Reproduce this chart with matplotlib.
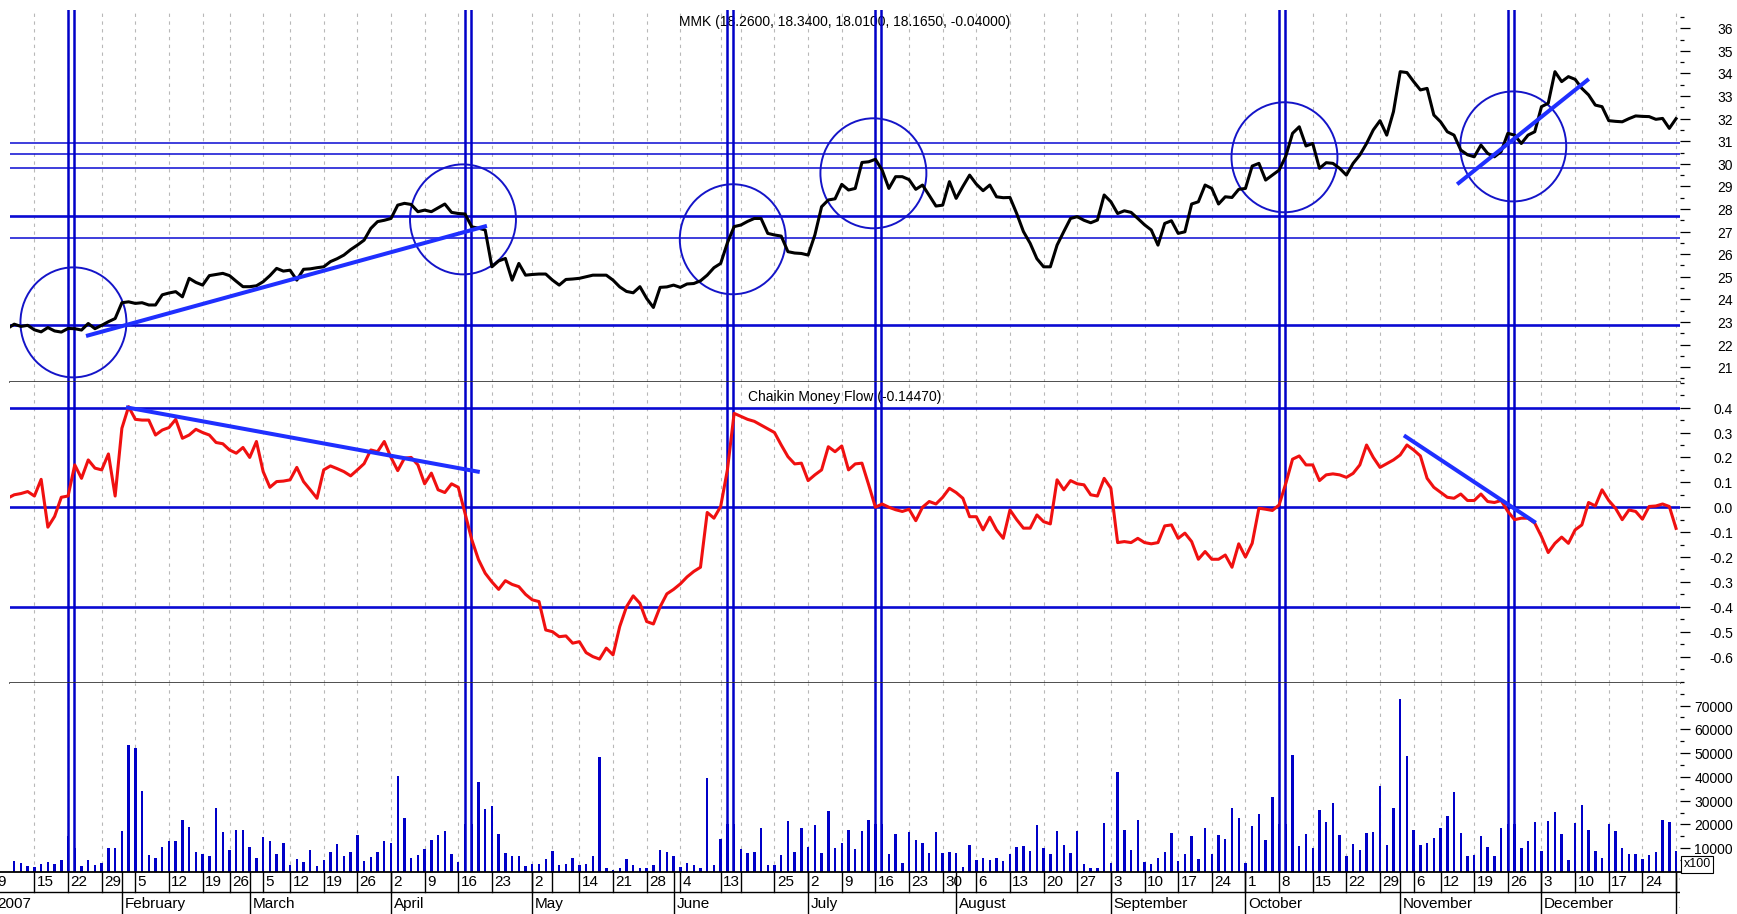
import numpy as np
import pandas as pd
import matplotlib.pyplot as plt
from matplotlib.patches import Ellipse
from matplotlib.ticker import MultipleLocator
from matplotlib.transforms import blended_transform_factory, ScaledTranslation
from matplotlib import font_manager

W, H = 1737, 914

# trading calendar (MICEX 2007, holidays and working saturdays)
holidays = pd.to_datetime(["2007-02-23", "2007-03-08", "2007-04-30", "2007-05-01",
                           "2007-05-09", "2007-06-11", "2007-06-12", "2007-11-05",
                           "2007-12-31", "2008-01-01", "2008-01-02", "2008-01-03",
                           "2008-01-04", "2008-01-07", "2008-01-08"])
work_saturdays = pd.to_datetime(["2007-04-28", "2007-06-09"])
days = pd.bdate_range("2007-01-09", "2008-01-09")
days = days[~days.isin(holidays)].union(work_saturdays)

# MMK close, one value per trading day
price = [
    22.71, 22.90, 22.80, 22.85, 22.65, 22.56, 22.75, 22.60, 22.55, 22.71,
    22.70, 22.64, 22.93, 22.70, 22.85, 23.01, 23.15, 23.85, 23.89, 23.82,
    23.85, 23.75, 23.75, 24.20, 24.28, 24.34, 24.11, 24.93, 24.75, 24.63,
    25.05, 25.10, 25.15, 25.05, 24.80, 24.56, 24.56, 24.60, 24.78, 25.05,
    25.37, 25.25, 25.29, 24.85, 25.33, 25.35, 25.40, 25.44, 25.67, 25.80,
    25.96, 26.20, 26.40, 26.62, 27.14, 27.44, 27.50, 27.58, 28.17, 28.25,
    28.20, 27.88, 27.95, 27.88, 28.05, 28.22, 27.85, 27.80, 27.78, 27.21,
    27.15, 27.07, 25.44, 25.70, 25.81, 24.85, 25.59, 25.07, 25.10, 25.12,
    25.12, 24.85, 24.63, 24.88, 24.90, 24.93, 25.00, 25.07, 25.07, 25.07,
    24.85, 24.55, 24.35, 24.29, 24.56, 24.04, 23.64, 24.53, 24.55, 24.63,
    24.53, 24.68, 24.70, 24.82, 25.07, 25.40, 25.59, 26.50, 27.22, 27.29,
    27.45, 27.58, 27.58, 26.92, 26.85, 26.80, 26.11, 26.05, 26.03, 25.96,
    26.85, 28.10, 28.40, 28.45, 29.09, 28.84, 28.91, 30.06, 30.09, 30.20,
    29.72, 28.91, 29.43, 29.43, 29.30, 28.87, 29.06, 28.60, 28.13, 28.17,
    29.21, 28.47, 29.00, 29.50, 29.10, 28.81, 29.06, 28.54, 28.50, 28.51,
    27.80, 27.00, 26.48, 25.80, 25.44, 25.44, 26.40, 27.00, 27.58, 27.66,
    27.50, 27.39, 27.51, 28.62, 28.32, 27.80, 27.92, 27.85, 27.58, 27.30,
    27.07, 26.40, 27.36, 27.48, 26.92, 26.99, 28.22, 28.32, 29.06, 28.91,
    28.22, 28.54, 28.51, 28.87, 28.91, 29.90, 30.02, 29.28, 29.50, 29.72,
    30.34, 31.35, 31.64, 30.79, 30.90, 29.80, 30.05, 30.02, 29.80, 29.50,
    30.02, 30.39, 30.90, 31.50, 31.91, 31.27, 32.31, 34.08, 34.04, 33.64,
    33.27, 33.34, 32.16, 31.86, 31.42, 31.27, 30.61, 30.40, 30.31, 30.83,
    30.46, 30.31, 30.54, 31.35, 31.27, 30.90, 31.27, 31.42, 32.53, 32.68,
    34.08, 33.64, 33.86, 33.74, 33.34, 33.05, 32.60, 32.53, 31.91, 31.88,
    31.86, 32.00, 32.12, 32.10, 32.09, 31.97, 32.01, 31.57, 32.00,
]

# Chaikin Money Flow
cmf = [
    0.036, 0.050, 0.055, 0.063, 0.045, 0.112, -0.080, -0.037, 0.040, 0.045,
    0.170, 0.116, 0.190, 0.157, 0.150, 0.214, 0.045, 0.317, 0.404, 0.353,
    0.350, 0.350, 0.290, 0.310, 0.320, 0.353, 0.277, 0.290, 0.313, 0.300,
    0.290, 0.260, 0.255, 0.230, 0.217, 0.240, 0.200, 0.264, 0.143, 0.080,
    0.103, 0.105, 0.110, 0.160, 0.103, 0.070, 0.036, 0.150, 0.166, 0.155,
    0.143, 0.126, 0.150, 0.175, 0.230, 0.223, 0.264, 0.200, 0.147, 0.197,
    0.200, 0.170, 0.094, 0.137, 0.070, 0.059, 0.094, 0.080, -0.024, -0.130,
    -0.210, -0.265, -0.300, -0.330, -0.295, -0.310, -0.319, -0.350, -0.372, -0.379,
    -0.493, -0.500, -0.520, -0.517, -0.546, -0.540, -0.584, -0.600, -0.610, -0.566,
    -0.593, -0.479, -0.400, -0.356, -0.386, -0.459, -0.469, -0.400, -0.348, -0.330,
    -0.308, -0.280, -0.258, -0.241, -0.021, -0.044, 0.003, 0.150, 0.377, 0.365,
    0.353, 0.345, 0.330, 0.315, 0.300, 0.250, 0.203, 0.174, 0.177, 0.107,
    0.130, 0.150, 0.243, 0.223, 0.246, 0.150, 0.174, 0.177, 0.090, 0.000,
    0.013, 0.000, -0.010, -0.017, -0.008, -0.054, 0.000, 0.023, 0.013, 0.040,
    0.076, 0.059, 0.036, -0.038, -0.038, -0.091, -0.040, -0.091, -0.125, -0.011,
    -0.050, -0.084, -0.084, -0.031, -0.058, -0.067, 0.110, 0.070, 0.107, 0.094,
    0.090, 0.050, 0.045, 0.116, 0.076, -0.142, -0.138, -0.142, -0.125, -0.142,
    -0.147, -0.142, -0.075, -0.071, -0.125, -0.104, -0.138, -0.209, -0.178, -0.209,
    -0.209, -0.192, -0.241, -0.147, -0.200, -0.145, -0.004, -0.008, -0.013, 0.009,
    0.096, 0.193, 0.206, 0.170, 0.170, 0.107, 0.130, 0.134, 0.130, 0.120,
    0.136, 0.170, 0.250, 0.200, 0.160, 0.175, 0.190, 0.210, 0.250, 0.230,
    0.206, 0.116, 0.080, 0.060, 0.040, 0.036, 0.053, 0.027, 0.027, 0.053,
    0.023, 0.019, 0.027, -0.017, -0.050, -0.044, -0.044, -0.064, -0.118, -0.182,
    -0.145, -0.120, -0.145, -0.091, -0.071, 0.019, 0.005, 0.070, 0.027, -0.004,
    -0.050, -0.011, -0.017, -0.048, 0.003, 0.005, 0.013, 0.003, -0.085,
]

# volume (axis units, x100)
volume = [
    3000, 4500, 3800, 2400, 2100, 3400, 4100, 3400, 4900, 15000,
    10000, 2400, 4900, 3100, 3800, 10100, 10100, 17400, 53300, 52100,
    33900, 7000, 5900, 10600, 12900, 12900, 22000, 18900, 8400, 7600,
    6600, 26900, 16700, 9400, 17800, 17800, 10600, 5900, 14700, 13100,
    7600, 12200, 3100, 5500, 4200, 9200, 2400, 4900, 8400, 11800,
    6600, 8400, 15400, 4800, 6300, 8400, 12900, 12200, 40200, 22700,
    5900, 7300, 9700, 13300, 15400, 17100, 7600, 4100, 20000, 20000,
    37700, 26500, 27900, 16000, 8000, 6600, 6600, 2400, 3400, 3400,
    5500, 9000, 3100, 3400, 5900, 3100, 3400, 6600, 48300, 1700,
    900, 1700, 5500, 2800, 1700, 1700, 2800, 9400, 8400, 6600,
    2100, 3800, 3100, 1700, 39500, 3100, 13900, 20000, 20000, 9700,
    8000, 8400, 18700, 3100, 2800, 7300, 21600, 8400, 18700, 10400,
    19600, 8000, 25500, 10100, 12400, 17500, 9700, 17100, 22000, 20000,
    20000, 7600, 16000, 3800, 16700, 13600, 12400, 8000, 16700, 8000,
    8400, 8000, 2100, 11200, 4900, 5900, 4900, 5900, 4800, 7600,
    10400, 10800, 8700, 19900, 10100, 7600, 17100, 11500, 8000, 17100,
    3400, 1700, 1700, 20600, 3800, 41900, 17800, 9200, 21700, 4200,
    3400, 5900, 8500, 16500, 4800, 7600, 15200, 5500, 18400, 7600,
    15400, 14000, 26900, 22700, 3800, 19400, 24500, 13300, 31500, 20000,
    20000, 49300, 10800, 16000, 10100, 26200, 20900, 29000, 15400, 6600,
    11900, 9400, 16400, 16800, 36300, 11200, 26900, 72600, 48800, 17500,
    11200, 12400, 14300, 18700, 23400, 33600, 16400, 6600, 7300, 15200,
    10600, 6600, 18700, 20000, 20000, 10100, 12900, 20900, 9000, 21600,
    25100, 16000, 5200, 20600, 28000, 17500, 8700, 5900, 20200, 17100,
    10100, 7700, 7600, 5500, 7300, 8400, 22000, 21100, 9000,
]

# analyst markings
price_levels = [30.90, 30.44, 29.82, 27.69, 26.70, 22.85]
cmf_levels = [0.4, 0.0, -0.4]
marker_days = [9, 68, 107, 129, 189, 223]
circle_x = [9.8, 67.7, 107.8, 128.7, 189.8, 223.8]
circle_y = [22.98, 27.54, 26.66, 29.58, 30.29, 30.77]
price_trends = [((11.96, 22.40), (70.97, 27.23)), ((215.7, 29.15), (234.8, 33.70))]
cmf_trends = [((17.9, 0.40), (69.9, 0.143)), ((207.8, 0.284), (226.9, -0.058))]

price_ticks = list(range(21, 37))
cmf_ticks = [0.4, 0.3, 0.2, 0.1, 0.0, -0.1, -0.2, -0.3, -0.4, -0.5, -0.6]
volume_ticks = [10000, 20000, 30000, 40000, 50000, 60000, 70000]

title_price = "MMK (18.2600, 18.3400, 18.0100, 18.1650, -0.04000)"
title_cmf = "Chaikin Money Flow (-0.14470)"
blank_weeks = ["2007-05-07", "2007-06-18"]

# fonts
names = {f.name for f in font_manager.fontManager.ttflist}
if "Liberation Sans Narrow" in names:
    plt.rcParams["font.family"] = ["Liberation Sans Narrow", "DejaVu Sans"]
    fs, fs_axis, fs_title = 13, 12, 12
else:
    plt.rcParams["font.family"] = ["Liberation Sans", "DejaVu Sans"]
    fs, fs_axis, fs_title = 11, 10, 10

# x mapping: day i sits at PX0 + i*PXD pixels
PX0, PXD = 7.5, 6.728
x = np.arange(len(days))


def px_box(left, top, right, bottom):
    return [left / W, 1 - bottom / H, (right - left) / W, (bottom - top) / H]


fig = plt.figure(figsize=(W / 100, H / 100), dpi=100)
ax_p = fig.add_axes(px_box(10, 10, 1680, 382))
ax_c = fig.add_axes(px_box(10, 382, 1680, 683))
ax_v = fig.add_axes(px_box(10, 683, 1680, 872))
ax_d = fig.add_axes(px_box(0, 872, 1680, 914))
panes = (ax_p, ax_c, ax_v)
xl = ((10 - PX0) / PXD, (1680 - PX0) / PXD)

# week / month boundaries
iso = days.isocalendar()
idx = pd.Series(x, index=days)
week_first = idx.groupby([iso["year"].values, iso["week"].values]).min().sort_values().values
month_first = idx.groupby([days.year, days.month]).min().sort_values().values

blue = "#0a0ad2"
for ax in panes:
    ax.set_xlim(*xl)
    ax.set_xticks([])
    for s in ax.spines.values():
        s.set_visible(False)
    for w in week_first[1:]:
        ax.axvline(w, color="#b8b8b8", lw=0.8, ls=(0, (3, 4)), zorder=0)
    for d in marker_days:
        ax.axvline(d - 0.05, color="#0000c8", lw=1.8, zorder=3)
        ax.axvline(d + 0.85, color="#0000c8", lw=1.8, zorder=3)

# price pane
ax_p.set_ylim(20.34, 36.81)
for lv, lw in zip(price_levels, [1.1, 1.1, 1.1, 1.9, 1.1, 1.9]):
    ax_p.axhline(lv, color=blue, lw=lw, zorder=2)
ax_p.plot(x, price, color="black", lw=2.2, zorder=5)
for cx, cy in zip(circle_x, circle_y):
    ax_p.add_patch(Ellipse((cx, cy), 15.75, 4.87, fill=False, ec="#1414c8", lw=1.4, zorder=4))
for (x0, y0), (x1, y1) in price_trends:
    ax_p.plot([x0, x1], [y0, y1], color="#1f2fff", lw=2.9, zorder=6)
ax_p.set_yticks(price_ticks)
ax_p.yaxis.set_minor_locator(MultipleLocator(0.5))
ax_p.text(0.5, 0.968, title_price, transform=ax_p.transAxes, ha="center", va="center",
          fontsize=fs_title, zorder=1)

# CMF pane
ax_c.set_ylim(-0.706, 0.503)
for lv in cmf_levels:
    ax_c.axhline(lv, color=blue, lw=1.9, zorder=2)
ax_c.plot(x, cmf, color="#f01010", lw=2.2, zorder=5)
for (x0, y0), (x1, y1) in cmf_trends:
    ax_c.plot([x0, x1], [y0, y1], color="#1f2fff", lw=2.9, zorder=6)
ax_c.set_yticks(cmf_ticks)
ax_c.yaxis.set_minor_locator(MultipleLocator(0.05))
ax_c.text(0.5, 0.950, title_cmf, transform=ax_c.transAxes, ha="center", va="center",
          fontsize=fs_title, zorder=1)

# pane separators
for ax in (ax_p, ax_c):
    ax.axhline(ax.get_ylim()[0], color="#303030", lw=1.2, clip_on=False, zorder=7)

# volume pane
ax_v.set_ylim(0, 79500)
ax_v.bar(x, volume, width=0.36, color="#0000c8", zorder=2)
ax_v.set_yticks(volume_ticks)
ax_v.yaxis.set_minor_locator(MultipleLocator(5000))

# right-hand scale: ticks from the axis, labels right-aligned at the image edge
label_x = (1733 - 10) / 1670
shift = ScaledTranslation(0, -2 / 100, fig.dpi_scale_trans)
scales = [(ax_p, price_ticks, [str(v) for v in price_ticks]),
          (ax_c, cmf_ticks, [f"{v:.1f}" for v in cmf_ticks]),
          (ax_v, volume_ticks, [str(v) for v in volume_ticks])]
for ax, vals, labs in scales:
    ax.yaxis.tick_right()
    ax.tick_params(axis="y", which="major", length=7.2, width=0.9, labelright=False)
    ax.tick_params(axis="y", which="minor", length=2.9, width=0.9)
    tr = blended_transform_factory(ax.transAxes, ax.transData) + shift
    for v, lab in zip(vals, labs):
        ax.text(label_x, v, lab, transform=tr, ha="right", va="center",
                fontsize=fs_axis, clip_on=False)

fig.text(1697 / W, 1 - 864 / H, "x100", fontsize=9, ha="center", va="center",
         bbox=dict(boxstyle="square,pad=0.2", fc="white", ec="black", lw=0.8))

# date strip
ax_d.set_xlim((0 - PX0) / PXD, xl[1])
ax_d.set_ylim(0, 1)
ax_d.axis("off")
ax_d.axhline(1, color="black", lw=1.3, clip_on=False)
ax_d.axhline(0.524, color="black", lw=1.0)
blank = set(idx[pd.to_datetime(blank_weeks)].values)
for w in week_first:
    pos = -1.9 if w == 0 else w  # first label sits past the left edge in the source
    ax_d.plot([pos, pos], [0.524, 1], color="black", lw=1.0)
    if w not in blank:
        ax_d.text(pos + 0.35, 0.76, str(days[w].day), ha="left", va="center",
                  fontsize=fs, clip_on=True)
for m in month_first:
    pos = -1.9 if m == 0 else m
    ax_d.plot([pos, pos], [0, 1], color="black", lw=1.0)
    d = days[m]
    lab = str(d.year) if d.month == 1 else d.strftime("%B")
    ax_d.text(pos + 0.4, 0.24, lab, ha="left", va="center", fontsize=fs, clip_on=True)

fig.savefig("out.png", dpi=100)
